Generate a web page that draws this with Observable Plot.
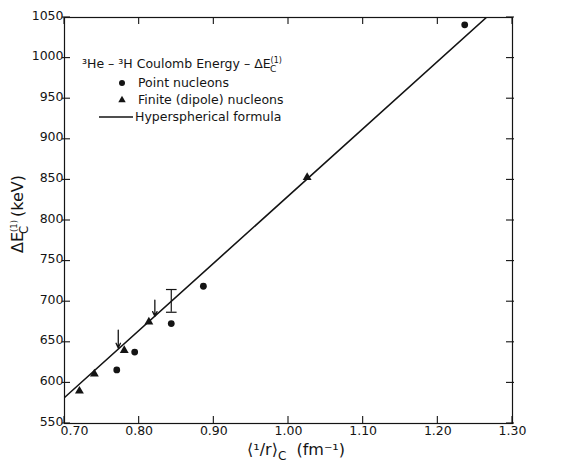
<!DOCTYPE html>
<html>
<head>
<meta charset="utf-8">
<script src="https://cdn.jsdelivr.net/npm/d3@7"></script>
<script src="https://cdn.jsdelivr.net/npm/@observablehq/plot@0.6"></script>
<style>
  html, body { margin: 0; padding: 0; background: #fff; }
  #chart svg { display: block; }
</style>
</head>
<body>
<div id="chart"></div>
<script>
// Data
const pointX = [0.770, 0.794, 0.843, 0.886, 1.236];
const pointY = [616, 638, 673, 719, 1041];
const finiteX = [0.720, 0.740, 0.780, 0.813, 1.025];
const finiteY = [590, 611, 640, 675, 853];
const formulaX = [0.700, 1.265];
const formulaY = [582, 1050];
const errX = [0.843];
const errLo = [687];
const errHi = [715];
const arrowX = [0.772, 0.821];
const arrowTop = [665, 702];
const arrowBottom = [643, 682];
const xTicks = [0.70, 0.80, 0.90, 1.00, 1.10, 1.20, 1.30];
const yTicks = [550, 600, 650, 700, 750, 800, 850, 900, 950, 1000, 1050];
const legendTitle = "³He – ³H Coulomb Energy – ΔE";
const legendLabels = ["Point nucleons", "Finite (dipole) nucleons", "Hyperspherical formula"];

const points = pointX.map((x, i) => ({x, y: pointY[i]}));
const finite = finiteX.map((x, i) => ({x, y: finiteY[i]}));
const formula = formulaX.map((x, i) => ({x, y: formulaY[i]}));
const errs = errX.map((x, i) => ({x, lo: errLo[i], hi: errHi[i]}));
const arrows = arrowX.map((x, i) => ({x, top: arrowTop[i], bottom: arrowBottom[i]}));

const ink = "#141414";
const font = "DejaVu Sans, sans-serif";

const capSymbol = { draw(ctx, size) { const w = Math.sqrt(size) * 1.2; ctx.moveTo(-w, 0); ctx.lineTo(w, 0); } };

// inward ticks on all four sides, placed through Plot's scales
function innerTicks(index, scales, values, dim) {
  const g = d3.create("svg:g").attr("stroke", ink).attr("stroke-width", 1.1).attr("fill", "none");
  const L = dim.marginLeft, R = dim.width - dim.marginRight;
  const T = dim.marginTop, B = dim.height - dim.marginBottom;
  for (const t of xTicks) {
    const px = scales.x(t);
    g.append("line").attr("x1", px).attr("x2", px).attr("y1", B).attr("y2", B - 7);
    g.append("line").attr("x1", px).attr("x2", px).attr("y1", T).attr("y2", T + 7);
  }
  for (const t of yTicks) {
    const py = scales.y(t);
    g.append("line").attr("x1", L - 2).attr("x2", L + 6).attr("y1", py).attr("y2", py);
    g.append("line").attr("x1", R + 2).attr("x2", R - 6).attr("y1", py).attr("y2", py);
  }
  return g.node();
}

function legendMark(index, scales, values, dim) {
  const g = d3.create("svg:g").attr("font-family", font).attr("fill", ink).attr("text-anchor", "start");
  const L = dim.marginLeft, T = dim.marginTop;
  const t = g.append("text").attr("x", L + 18).attr("y", T + 51).attr("font-size", 12.5);
  t.text(legendTitle);
  t.append("tspan").attr("font-size", 8).attr("dy", -5).text("(1)");
  t.append("tspan").attr("font-size", 9).attr("dx", -12).attr("dy", 9).text("C");
  const rows = [T + 70, T + 87, T + 104];
  g.append("circle").attr("cx", L + 58).attr("cy", rows[0] - 4).attr("r", 3).attr("fill", ink);
  g.append("path").attr("d", d3.symbol(d3.symbolTriangle, 24)()).attr("transform", `translate(${L + 58},${rows[1] - 4})`).attr("fill", ink);
  g.append("line").attr("x1", L + 35).attr("x2", L + 69).attr("y1", rows[2] - 4).attr("y2", rows[2] - 4).attr("stroke", ink).attr("stroke-width", 1.6);
  g.append("text").attr("x", L + 74).attr("y", rows[0]).attr("font-size", 12.5).text(legendLabels[0]);
  g.append("text").attr("x", L + 74).attr("y", rows[1]).attr("font-size", 12.5).text(legendLabels[1]);
  g.append("text").attr("x", L + 71).attr("y", rows[2]).attr("font-size", 12.5).text(legendLabels[2]);
  return g.node();
}

function axisLabels(index, scales, values, dim) {
  const g = d3.create("svg:g").attr("font-family", font).attr("fill", ink);
  const cx = dim.marginLeft + (dim.width - dim.marginLeft - dim.marginRight) / 2;
  const xl = g.append("text").attr("x", cx + 8).attr("y", dim.height - 14).attr("text-anchor", "middle").attr("font-size", 16);
  xl.append("tspan").text("⟨¹/r⟩");
  xl.append("tspan").attr("font-size", 12).attr("dy", 5).text("C");
  xl.append("tspan").attr("dy", -5).text("  (fm⁻¹)");
  const cy = dim.marginTop + (dim.height - dim.marginTop - dim.marginBottom) / 2;
  const yl = g.append("text").attr("transform", `translate(23,${cy - 6}) rotate(-90)`).attr("text-anchor", "middle").attr("font-size", 16);
  yl.append("tspan").text("ΔE");
  yl.append("tspan").attr("font-size", 8.5).attr("dy", -6).text("(1)");
  yl.append("tspan").attr("font-size", 11.5).attr("dx", -14).attr("dy", 11).text("C");
  yl.append("tspan").attr("dx", 9).attr("dy", -5).text("(keV)");
  return g.node();
}

const chart = Plot.plot({
  width: 574,
  height: 469,
  marginLeft: 64,
  marginRight: 62,
  marginTop: 17,
  marginBottom: 46,
  style: { fontFamily: font, color: ink, background: "#fff" },
  x: { domain: [0.70, 1.30] },
  y: { domain: [550, 1050] },
  marks: [
    Plot.frame({ stroke: ink, strokeWidth: 1.2 }),
    // tick labels (first x label nudged right, as in the original)
    Plot.axisX({ ticks: xTicks.slice(0, 1), tickFormat: d3.format(".2f"), tickSize: 0, tickPadding: 3, dx: 10, fontSize: 12.5, label: null, fill: ink }),
    Plot.axisX({ ticks: xTicks.slice(1), tickFormat: d3.format(".2f"), tickSize: 0, tickPadding: 3, fontSize: 12.5, label: null, fill: ink }),
    Plot.axisY({ ticks: yTicks, tickFormat: d3.format("d"), tickSize: 0, tickPadding: 1, dy: -2, fontSize: 12.5, label: null, fill: ink }),
    innerTicks,
    Plot.line(formula, { x: "x", y: "y", stroke: ink, strokeWidth: 1.6, clip: true }),
    Plot.ruleX(errs, { x: "x", y1: "lo", y2: "hi", stroke: ink, strokeWidth: 1.2 }),
    Plot.dot(errs, { x: "x", y: "lo", symbol: capSymbol, r: 2.5, stroke: ink, strokeWidth: 1.2 }),
    Plot.dot(errs, { x: "x", y: "hi", symbol: capSymbol, r: 2.5, stroke: ink, strokeWidth: 1.2 }),
    Plot.arrow(arrows, { x1: "x", y1: "top", x2: "x", y2: "bottom", stroke: ink, strokeWidth: 1.3, headLength: 6, headAngle: 50 }),
    Plot.dot(points, { x: "x", y: "y", r: 3.4, fill: ink, stroke: null }),
    Plot.dot(finite, { x: "x", y: "y", symbol: "triangle", r: 3.3, fill: ink, stroke: null }),
    legendMark,
    axisLabels
  ]
});
document.getElementById("chart").append(chart);
</script>
</body>
</html>
